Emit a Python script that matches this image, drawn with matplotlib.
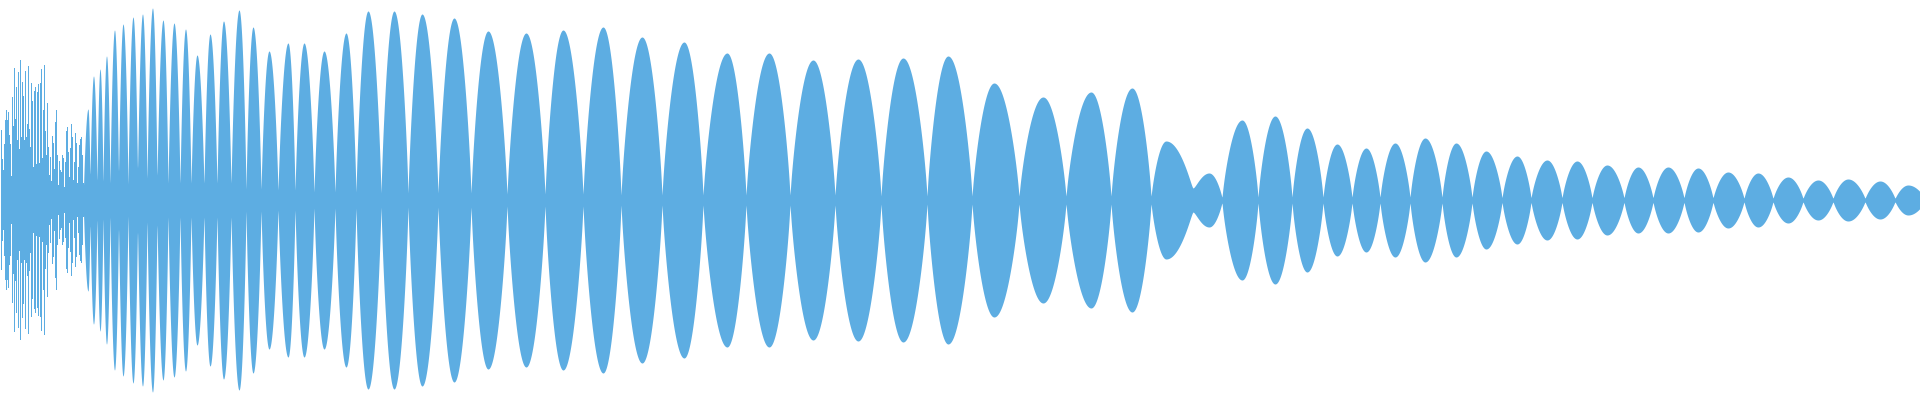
import numpy as np
import matplotlib
matplotlib.use("Agg")
import matplotlib.pyplot as plt

WAVE_COLOR = "#5DADE2"
LOBE_GAMMA = 0.75  # lobes in the source are a bit fuller than a plain |sin|

# onset: envelope read column by column (the beats are narrower than a pixel here)
onset_amp = [
    83, 70, 41, 30, 56, 80, 90, 80, 88, 65, 56, 24, 103, 74, 132, 81, 113, 60, 128, 51,
    140, 63, 118, 104, 60, 129, 63, 76, 134, 71, 53, 117, 99, 33, 109, 113, 36, 108, 116, 37,
    117, 131, 42, 90, 135, 69, 45, 97, 53, 25, 43, 19, 64, 57, 31, 78, 90, 45, 15, 39,
    30, 28, 45, 42, 13, 38, 69, 73, 48, 23, 52, 76, 63, 20, 38, 67, 57, 17, 33, 55,
    61, 63, 45, 17,
]

# beat lobes after the onset: boundaries, neck level at each boundary,
# and position / height of each lobe's peak
lobe_edges = [
    83.5, 90, 97, 103, 110, 118.5, 128, 137.5, 147, 157, 168, 180, 191, 204, 217, 231,
    246, 261, 278, 295, 314, 335, 356, 381, 408, 438, 471, 507, 545, 583, 621, 662,
    703, 746, 790, 835, 881, 927, 972, 1019, 1066, 1111, 1151, 1193, 1222, 1258, 1292,
    1323, 1352, 1380, 1410, 1442, 1472, 1502, 1531, 1562, 1592, 1624, 1653, 1684, 1713,
    1744, 1773, 1803, 1833, 1865, 1895, 1925,
]
neck_amp = [
    15, 26, 20, 19, 17, 29, 16, 32, 22, 25, 17, 17, 17, 17, 17, 17,
    11, 11, 10, 10, 8, 8, 8, 7, 7, 7, 7, 6, 6, 6, 5, 5,
    5, 5, 5, 5, 4, 4, 4, 4, 4, 4, 4, 12, 3, 3, 3,
    3, 3, 3, 3, 3, 3, 2.5, 2.5, 2.5, 2.5, 2.5, 2.5, 2.5, 2.5,
    2, 2, 2, 2, 2, 2, 2,
]
peak_t = [
    88, 93.5, 100, 106.5, 114.5, 123, 133, 142.5, 152.5, 163, 174, 185.5, 197, 210, 223.5,
    239, 253, 269, 288, 304, 324, 346, 368, 394, 422, 454, 488, 526, 563, 603, 642,
    684, 727, 769, 813, 858, 903, 948, 994, 1043, 1091, 1132, 1166, 1209, 1242, 1275,
    1307, 1337, 1366, 1395, 1425, 1456, 1486, 1517, 1547, 1577, 1607, 1638, 1668, 1698,
    1728, 1758, 1788, 1818, 1848, 1880, 1908,
]
peak_amp = [
    91, 124, 131, 144, 170, 176, 183, 186, 192, 180, 177, 171, 145, 166, 179,
    190, 173, 149, 157, 157, 149, 167, 189, 189, 186, 182, 169, 167, 170, 173, 163,
    158, 147, 147, 140, 141, 142, 144, 117, 103, 108, 112, 59, 27, 80, 84,
    72, 56, 52, 57, 62, 57, 49, 44, 40, 39, 35, 33, 33, 32,
    28, 27, 23, 20, 21, 19, 15,
]


def lobe_half(t0, t1, n, p, rising, k=50):
    # env^2 = neck^2 + (peak^2 - neck^2) * s^(2*gamma), s a quarter sine
    t = np.linspace(t0, t1, k)
    u = (t - t0) / max(t1 - t0, 1e-9)
    s = np.sin(0.5 * np.pi * (u if rising else 1 - u))
    return t, np.sqrt(n ** 2 + (p ** 2 - n ** 2) * s ** (2 * LOBE_GAMMA))


def lobe_envelope():
    ts, es = [], []
    for i in range(len(peak_amp)):
        a, b = lobe_edges[i], lobe_edges[i + 1]
        t1, e1 = lobe_half(a, peak_t[i], neck_amp[i], peak_amp[i], True)
        t2, e2 = lobe_half(peak_t[i], b, neck_amp[i + 1], peak_amp[i], False)
        ts += [t1, t2[1:]]
        es += [e1, e2[1:]]
    return np.concatenate(ts), np.concatenate(es)


def main():
    fig = plt.figure(figsize=(19.2, 4.0), dpi=100)
    ax = fig.add_axes([0, 0, 1, 1])

    t0 = np.arange(len(onset_amp)) + 0.5
    a0 = np.array(onset_amp, dtype=float)
    ax.fill_between(t0, -a0, a0, step="mid", color=WAVE_COLOR, linewidth=0)

    t, env = lobe_envelope()
    ax.fill_between(t, -env, env, color=WAVE_COLOR, linewidth=0)

    ax.set_xlim(0, 1920)
    ax.set_ylim(-200, 200)
    ax.axis("off")
    fig.savefig("out.png", dpi=100, facecolor="white")


if __name__ == "__main__":
    main()
